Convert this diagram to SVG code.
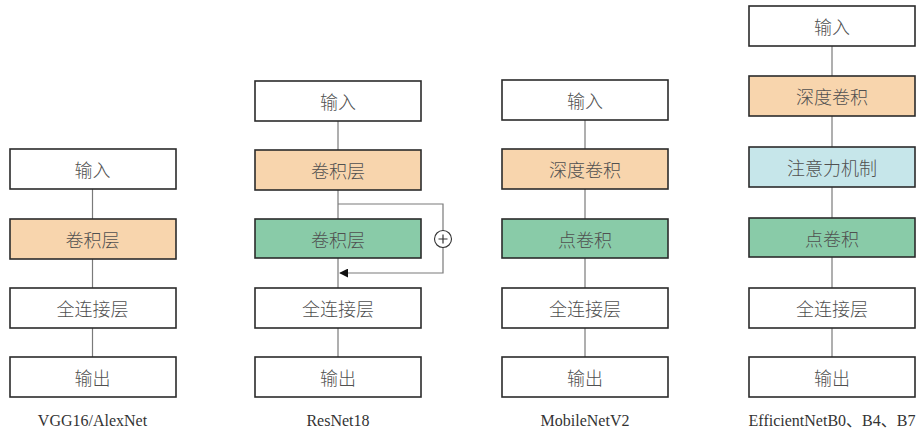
<svg xmlns="http://www.w3.org/2000/svg" width="920" height="433" viewBox="0 0 920 433">
<defs>
<style>
.b{stroke:#2b2b2b;stroke-width:1.6}
.w{fill:#fff}.o{fill:#f8d5ad}.g{fill:#89cba8}.c{fill:#c6e6ea}
.t{font-family:"Noto Sans CJK SC","Noto Sans CJK JP",sans-serif;font-size:18px;font-weight:300;fill:#505050;text-anchor:middle;dominant-baseline:central}
.cap{font-family:"Liberation Serif","Noto Sans CJK SC",serif;font-size:16px;fill:#333;text-anchor:middle}
.l{stroke:#7a7a7a;stroke-width:1.2;fill:none}
</style>
<marker id="ah" viewBox="0 0 10 10" refX="9" refY="5" markerWidth="9" markerHeight="9" markerUnits="userSpaceOnUse" orient="auto"><path d="M0,0L10,5L0,10z" fill="#111"/></marker>
</defs>
<rect width="920" height="433" fill="#fff"/>
<g id="connectors">
<line class="l" x1="92.5" y1="189" x2="92.5" y2="219"/>
<line class="l" x1="92.5" y1="259" x2="92.5" y2="288"/>
<line class="l" x1="92.5" y1="328" x2="92.5" y2="357"/>
<line class="l" x1="338" y1="121" x2="338" y2="150"/>
<line class="l" x1="338" y1="190" x2="338" y2="219"/>
<line class="l" x1="338" y1="258" x2="338" y2="288"/>
<line class="l" x1="338" y1="328" x2="338" y2="357"/>
<polyline class="l" points="338,204 443,204 443,273 340,273" marker-end="url(#ah)"/>
<line class="l" x1="585" y1="120" x2="585" y2="149"/>
<line class="l" x1="585" y1="189" x2="585" y2="219"/>
<line class="l" x1="585" y1="258" x2="585" y2="288"/>
<line class="l" x1="585" y1="328" x2="585" y2="357"/>
<line class="l" x1="832" y1="46" x2="832" y2="76"/>
<line class="l" x1="832" y1="116" x2="832" y2="147"/>
<line class="l" x1="832" y1="187" x2="832" y2="218"/>
<line class="l" x1="832" y1="257" x2="832" y2="288"/>
<line class="l" x1="832" y1="328" x2="832" y2="357"/>
<g id="plus">
<circle cx="443" cy="239" r="8.5" fill="#fff" stroke="#333" stroke-width="1.1"/>
<path d="M438.5,239H447.5M443,234.5V243.5" stroke="#333" stroke-width="1.2"/>
</g>
</g>
<g id="vgg">
<g id="vgg-in"><rect class="b w" x="10" y="149" width="166" height="40"/><text class="t" x="92.5" y="169">输入</text></g>
<g id="vgg-conv"><rect class="b o" x="10" y="219" width="166" height="40"/><text class="t" x="92.5" y="239">卷积层</text></g>
<g id="vgg-fc"><rect class="b w" x="10" y="288" width="166" height="40"/><text class="t" x="92.5" y="308">全连接层</text></g>
<g id="vgg-out"><rect class="b w" x="10" y="357" width="166" height="40"/><text class="t" x="92.5" y="377">输出</text></g>
<text class="cap" x="92.5" y="426">VGG16/AlexNet</text>
</g>
<g id="resnet">
<g id="res-in"><rect class="b w" x="255" y="81" width="166" height="40"/><text class="t" x="338" y="101">输入</text></g>
<g id="res-conv1"><rect class="b o" x="255" y="150" width="166" height="40"/><text class="t" x="338" y="170">卷积层</text></g>
<g id="res-conv2"><rect class="b g" x="255" y="219" width="166" height="39"/><text class="t" x="338" y="239">卷积层</text></g>
<g id="res-fc"><rect class="b w" x="255" y="288" width="166" height="40"/><text class="t" x="338" y="308">全连接层</text></g>
<g id="res-out"><rect class="b w" x="255" y="357" width="166" height="40"/><text class="t" x="338" y="377">输出</text></g>
<text class="cap" x="338" y="426">ResNet18</text>
</g>
<g id="mobilenet">
<g id="mob-in"><rect class="b w" x="502" y="80" width="166" height="40"/><text class="t" x="585" y="100">输入</text></g>
<g id="mob-dw"><rect class="b o" x="502" y="149" width="166" height="40"/><text class="t" x="585" y="169">深度卷积</text></g>
<g id="mob-pw"><rect class="b g" x="502" y="219" width="166" height="39"/><text class="t" x="585" y="239">点卷积</text></g>
<g id="mob-fc"><rect class="b w" x="502" y="288" width="166" height="40"/><text class="t" x="585" y="308">全连接层</text></g>
<g id="mob-out"><rect class="b w" x="502" y="357" width="166" height="40"/><text class="t" x="585" y="377">输出</text></g>
<text class="cap" x="585" y="426">MobileNetV2</text>
</g>
<g id="efficientnet">
<g id="eff-in"><rect class="b w" x="749" y="6" width="166" height="40"/><text class="t" x="832" y="26">输入</text></g>
<g id="eff-dw"><rect class="b o" x="749" y="76" width="166" height="40"/><text class="t" x="832" y="96">深度卷积</text></g>
<g id="eff-att"><rect class="b c" x="749" y="147" width="166" height="40"/><text class="t" x="832" y="167">注意力机制</text></g>
<g id="eff-pw"><rect class="b g" x="749" y="218" width="166" height="39"/><text class="t" x="832" y="238">点卷积</text></g>
<g id="eff-fc"><rect class="b w" x="749" y="288" width="166" height="40"/><text class="t" x="832" y="308">全连接层</text></g>
<g id="eff-out"><rect class="b w" x="749" y="357" width="166" height="40"/><text class="t" x="832" y="377">输出</text></g>
<text class="cap" x="832" y="426">EfficientNetB0、B4、B7</text>
</g>
</svg>
